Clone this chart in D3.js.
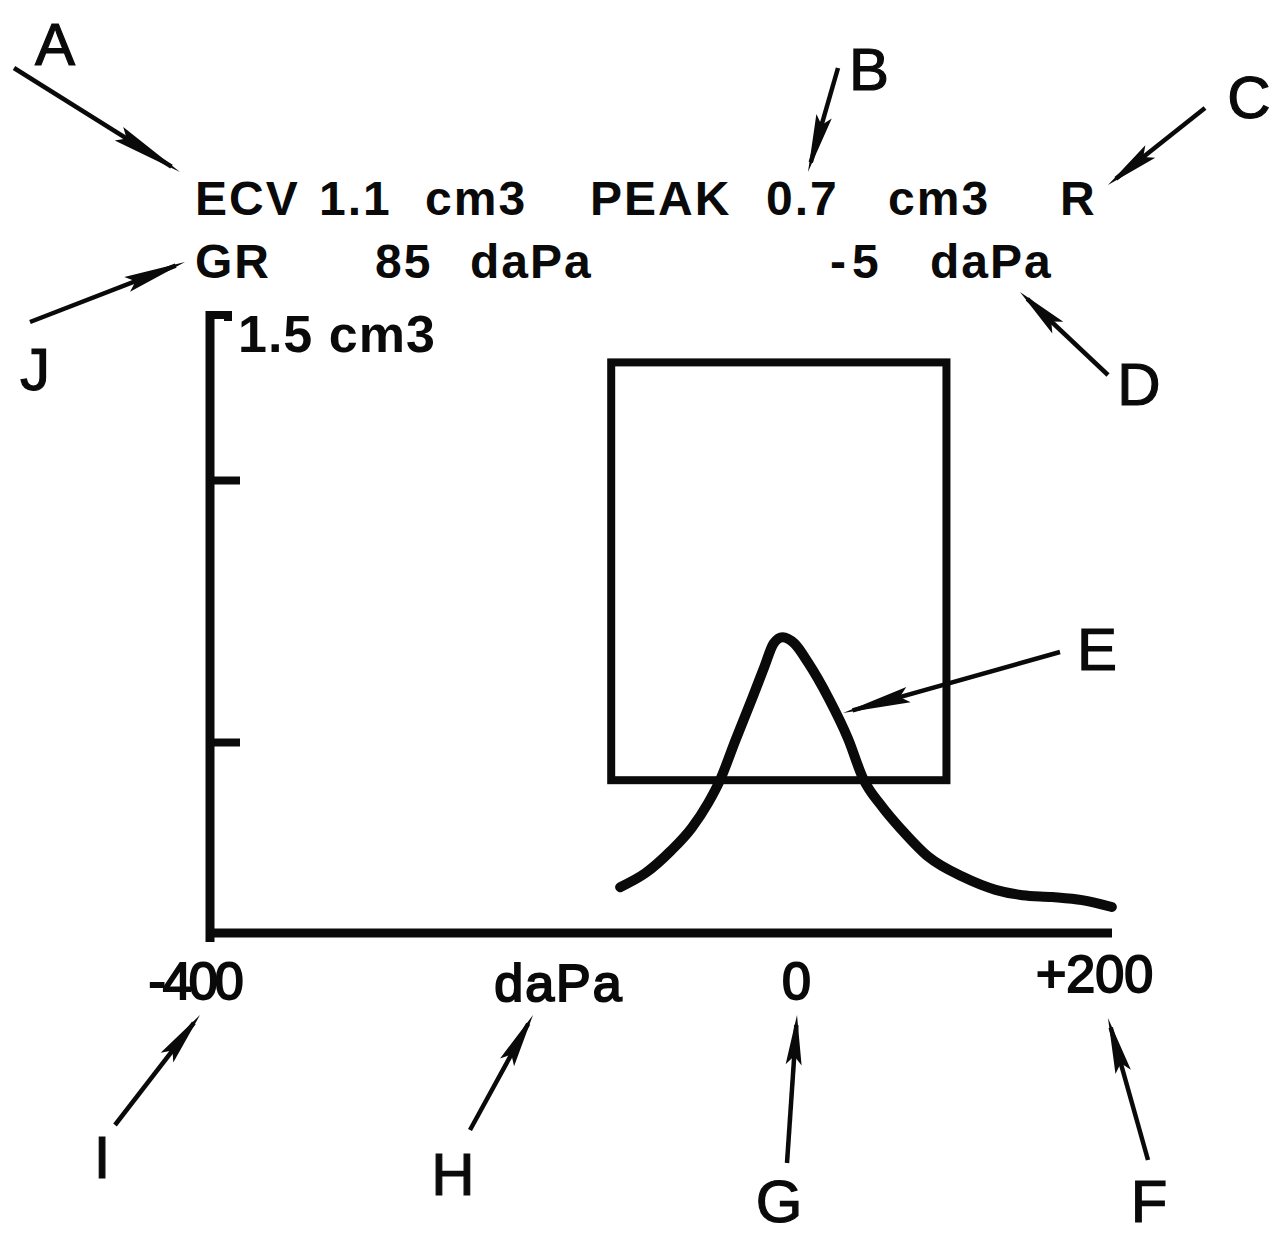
<!DOCTYPE html>
<html>
<head>
<meta charset="utf-8">
<script src="https://cdn.jsdelivr.net/npm/d3@7"></script>
<style>
  html, body { margin: 0; padding: 0; background: #fff; }
  svg { display: block; }
</style>
</head>
<body>
<svg id="chart" width="1287" height="1240"></svg>
<script>
// ---- Tympanogram readout ----
const readingNames  = ["ECV", "PEAK", "GR"];
const readingValues = ["1.1", "0.7", "85"];
const readingUnits  = ["cm3", "cm3", "daPa"];
const peakPressure  = -5;        // daPa
const peakVolume    = 0.7;       // cm3
const earSide       = "R";

// ---- Axes ----
const xTickValues = [-400, 0, 200];
const xTickLabels = ["-400", "0", "+200"];
const xUnitLabel  = "daPa";
const yTickValues = [0.5, 1.0];
const yMax        = 1.5;
const yMaxLabel   = "1.5 cm3";

// ---- Normal-range box (pressure daPa, volume cm3) ----
const boxPressure = [-120, 105];
const boxVolume   = [0.4, 1.35];

// ---- Compliance trace ----
const curvePressure = [-114, -97, -80, -66, -55, -47, -36.5, -25, -17, -11, peakPressure, 3, 12, 26, 39, 49, 62, 75, 93, 116, 138, 156, 176, 196, 216];
const curveVolume   = [0.12, 0.157, 0.215, 0.275, 0.34, 0.40, 0.504, 0.586, 0.645, 0.688, peakVolume, 0.688, 0.652, 0.583, 0.506, 0.405, 0.33, 0.27, 0.199, 0.147, 0.113, 0.099, 0.094, 0.086, 0.068];

// ---- Callout letters ----
const calloutLetters = ["A", "B", "C", "D", "E", "F", "G", "H", "I", "J"];

// ================= drawing =================
const svg = d3.select("#chart");
const INK = "#0a0a0a";
const frame = { left: 210, right: 1112, top: 312, bottom: 933 };

const x = d3.scaleLinear().domain([-400, 200]).range([194, 1088]);
const y = d3.scaleLinear()
  .domain([0, yTickValues[0], yTickValues[1], yMax])
  .range([frame.bottom, 742, 480, frame.top]);

const font = "'Liberation Sans', Arial, Helvetica, sans-serif";

// header readout
const header = svg.append("g")
  .attr("font-family", font)
  .attr("font-weight", "bold")
  .attr("font-size", 48)
  .attr("letter-spacing", 2)
  .attr("fill", INK);

const headerItems = [
  [readingNames[0], 195, 215], [readingValues[0], 319, 215], [readingUnits[0], 425, 215],
  [readingNames[1], 590, 215], [readingValues[1], 766, 215], [readingUnits[1], 888, 215],
  [earSide, 1060, 215],
  [readingNames[2], 195, 278], [readingValues[2], 375, 278], [readingUnits[2], 470, 278],
  [readingUnits[2], 930, 278]
];
header.selectAll("text.item").data(headerItems).join("text")
  .attr("class", "item")
  .attr("x", d => d[1])
  .attr("y", d => d[2])
  .text(d => d[0]);

// peak pressure, sign set slightly apart from the digit
const pp = header.append("text").attr("x", 830).attr("y", 278);
pp.append("tspan").text(peakPressure < 0 ? "-" : "+");
pp.append("tspan").attr("dx", 4).text(Math.abs(peakPressure));

// y axis
const yAxis = d3.axisRight(y).tickValues(yTickValues).tickSize(30).tickFormat("");
const gy = svg.append("g").attr("transform", `translate(${frame.left},0)`).call(yAxis);
gy.select(".domain").remove();
gy.selectAll(".tick line").attr("stroke", INK).attr("stroke-width", 8);

svg.append("line")
  .attr("x1", frame.left).attr("x2", frame.left)
  .attr("y1", y(yMax) - 1).attr("y2", frame.bottom + 9)
  .attr("stroke", INK).attr("stroke-width", 9);
// top cap of the scale
svg.append("path")
  .attr("d", `M${frame.left},${y(yMax) + 3}H${frame.left + 18}V${y(yMax) + 9}`)
  .attr("fill", "none").attr("stroke", INK).attr("stroke-width", 8);

svg.append("text")
  .attr("x", 238).attr("y", 352)
  .attr("font-family", font).attr("font-weight", "bold")
  .attr("font-size", 52).attr("letter-spacing", 1)
  .attr("fill", INK)
  .text(yMaxLabel);

// x axis
svg.append("line")
  .attr("x1", frame.left - 4).attr("x2", frame.right)
  .attr("y1", frame.bottom).attr("y2", frame.bottom)
  .attr("stroke", INK).attr("stroke-width", 9);

const xAxis = d3.axisBottom(x).tickValues(xTickValues).tickSize(0)
  .tickFormat((d, i) => xTickLabels[i]);
const gx = svg.append("g").attr("transform", `translate(0,${frame.bottom})`).call(xAxis);
gx.select(".domain").remove();
gx.selectAll(".tick text")
  .attr("y", (d, i) => i === 2 ? 59 : 66).attr("dy", 0)
  .attr("dx", (d, i) => i === 0 ? 0 : 6)
  .attr("font-family", font)
  .attr("font-size", 52)
  .attr("letter-spacing", (d, i) => i === 0 ? -3 : 0)
  .attr("fill", INK).attr("stroke", INK).attr("stroke-width", 2);

svg.append("text")
  .attr("x", 559).attr("y", frame.bottom + 68)
  .attr("text-anchor", "middle")
  .attr("font-family", font).attr("font-size", 52).attr("letter-spacing", 2)
  .attr("fill", INK).attr("stroke", INK).attr("stroke-width", 2)
  .text(xUnitLabel);

// normal-range box
svg.append("rect")
  .attr("x", x(boxPressure[0]))
  .attr("y", y(boxVolume[1]))
  .attr("width", x(boxPressure[1]) - x(boxPressure[0]))
  .attr("height", y(boxVolume[0]) - y(boxVolume[1]))
  .attr("fill", "none").attr("stroke", INK).attr("stroke-width", 8);

// compliance trace
const trace = curvePressure.map((p, i) => [p, curveVolume[i]]);
svg.append("path")
  .datum(trace)
  .attr("d", d3.line().x(d => x(d[0])).y(d => y(d[1])).curve(d3.curveMonotoneX))
  .attr("fill", "none").attr("stroke", INK).attr("stroke-width", 10)
  .attr("stroke-linecap", "round").attr("stroke-linejoin", "round");

// callouts: letter centre/baseline, arrow tail, arrow tip, head length
const calloutLayout = [
  [55, 65,    [14, 68],     [180, 172],  72],
  [869, 90,   [838, 68],    [808, 172],  58],
  [1249, 118, [1205, 108],  [1108, 185], 54],
  [1139, 405, [1108, 375],  [1020, 292], 52],
  [1097, 670, [1060, 652],  [843, 713],  68],
  [1149, 1222,[1148, 1160], [1108, 1018],56],
  [779, 1222, [787, 1163],  [797, 1015], 50],
  [453, 1195, [470, 1130],  [533, 1015], 54],
  [102, 1178, [115, 1125],  [200, 1015], 54],
  [35, 390,   [30, 322],    [185, 262],  62]
];

const callouts = svg.append("g");
calloutLetters.forEach((letter, i) => {
  const [lx, ly, tail, tip, head] = calloutLayout[i];
  callouts.append("text")
    .attr("x", lx).attr("y", ly)
    .attr("text-anchor", "middle")
    .attr("font-family", font).attr("font-size", 60)
    .attr("fill", INK).attr("stroke", INK).attr("stroke-width", 1.2)
    .text(letter);

  const dx = tip[0] - tail[0], dy = tip[1] - tail[1];
  const len = Math.hypot(dx, dy);
  const ux = dx / len, uy = dy / len;
  const nx = -uy, ny = ux;
  callouts.append("line")
    .attr("x1", tail[0]).attr("y1", tail[1])
    .attr("x2", tip[0] - ux * 10).attr("y2", tip[1] - uy * 10)
    .attr("stroke", INK).attr("stroke-width", 4.5);
  const bx = tip[0] - ux * head, by = tip[1] - uy * head;
  const hw = 8;
  const pts = [
    [tip[0], tip[1]],
    [bx + nx * hw, by + ny * hw],
    [bx + ux * 9, by + uy * 9],
    [bx - nx * hw, by - ny * hw]
  ];
  callouts.append("polygon")
    .attr("points", pts.map(p => p.join(",")).join(" "))
    .attr("fill", INK);
});
</script>
</body>
</html>
